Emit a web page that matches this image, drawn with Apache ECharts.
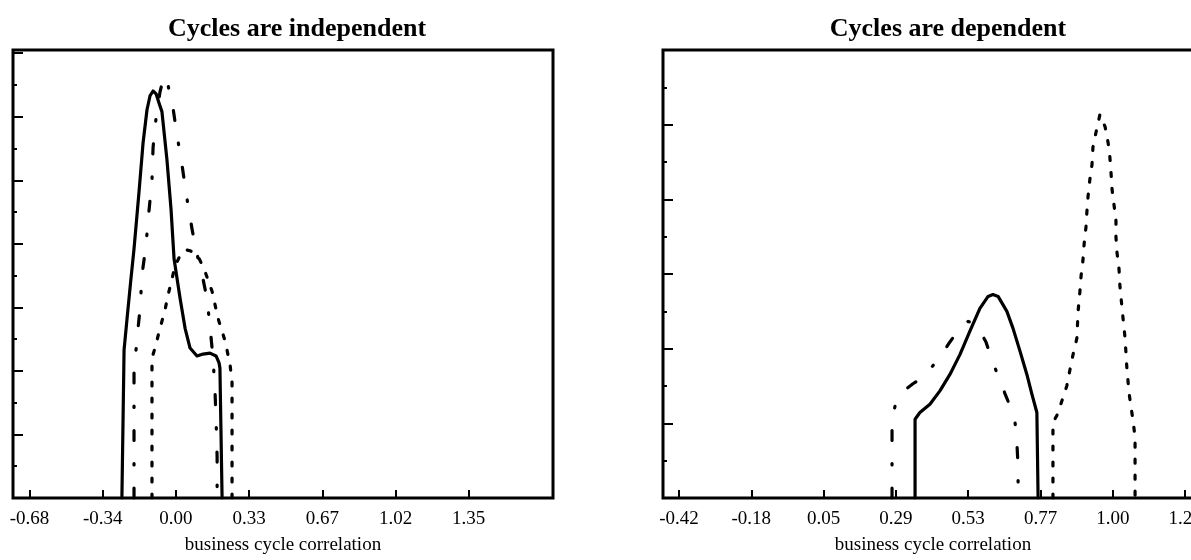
<!DOCTYPE html>
<html>
<head>
<meta charset="utf-8">
<script src="https://cdn.jsdelivr.net/npm/echarts@6/dist/echarts.min.js"></script>
<style>
html, body { margin: 0; padding: 0; overflow: hidden; background: #fff; }
#chart { width: 1230px; height: 560px; }
</style>
</head>
<body>
<div id="chart"></div>
<script>
// tick positions (uniform spacing) and the labels printed under them
const leftTicks = [-0.68, -0.3417, -0.0034, 0.3349, 0.6732, 1.0115, 1.3498]
const leftTickLabels = ['-0.68', '-0.34', '0.00', '0.33', '0.67', '1.02', '1.35']
const rightTicks = [-0.42, -0.1814, 0.0572, 0.2958, 0.5344, 0.773, 1.0116, 1.2502]
const rightTickLabels = ['-0.42', '-0.18', '0.05', '0.29', '0.53', '0.77', '1.00', '1.25']

// Cycles are independent
const indSolidX = [-0.253, -0.243, -0.229, -0.211, -0.197, -0.174, -0.155, -0.137, -0.123, -0.109, -0.095, -0.082, -0.068, -0.045, -0.026, -0.012, 0.016, 0.039, 0.062, 0.094, 0.122, 0.154, 0.182, 0.196, 0.200, 0.210]
const indSolidY = [0, 4.66, 5.66, 6.91, 7.84, 9.63, 11.19, 12.22, 12.66, 12.81, 12.72, 12.44, 12.16, 10.66, 9.09, 7.53, 6.28, 5.34, 4.72, 4.47, 4.53, 4.56, 4.47, 4.25, 4.09, 0]
const indDashDotX = [-0.197, -0.197, -0.183, -0.169, -0.160, -0.142, -0.128, -0.114, -0.109, -0.095, -0.077, -0.063, -0.049, -0.035, -0.021, 0.002, 0.025, 0.048, 0.071, 0.090, 0.117, 0.140, 0.154, 0.168, 0.177, 0.182, 0.187, 0.187]
const indDashDotY = [0, 3.94, 5.03, 5.97, 7.03, 7.94, 9.03, 10.00, 11.03, 11.97, 12.78, 13.16, 13.28, 12.84, 12.47, 11.41, 10.47, 9.41, 8.47, 7.78, 7.06, 6.28, 5.41, 4.41, 3.41, 2.53, 1.28, 0]
const indDottedX = [-0.114, -0.114, -0.100, -0.077, -0.054, -0.040, -0.021, -0.007, 0.016, 0.043, 0.062, 0.094, 0.131, 0.164, 0.191, 0.224, 0.247, 0.256, 0.256]
const indDottedY = [0, 4.41, 4.72, 5.34, 5.91, 6.38, 6.91, 7.31, 7.63, 7.81, 7.78, 7.69, 7.13, 6.50, 5.66, 4.94, 4.19, 3.63, 0]

// Cycles are dependent
const depSolidX = [0.359, 0.359, 0.375, 0.408, 0.441, 0.474, 0.507, 0.540, 0.573, 0.600, 0.616, 0.633, 0.662, 0.682, 0.705, 0.728, 0.745, 0.761, 0.765]
const depSolidY = [0, 2.11, 2.29, 2.51, 2.87, 3.31, 3.84, 4.47, 5.08, 5.40, 5.45, 5.40, 5.00, 4.55, 3.94, 3.31, 2.77, 2.29, 0]
const depDashDotX = [0.283, 0.283, 0.296, 0.326, 0.352, 0.392, 0.425, 0.445, 0.474, 0.507, 0.534, 0.554, 0.573, 0.593, 0.616, 0.639, 0.656, 0.672, 0.689, 0.695, 0.699, 0.699]
const depDashDotY = [0, 2.15, 2.55, 2.90, 3.06, 3.27, 3.62, 3.83, 4.18, 4.55, 4.73, 4.68, 4.47, 4.18, 3.62, 3.16, 2.79, 2.47, 2.02, 1.49, 0.82, 0]
const depDottedX = [0.814, 0.814, 0.827, 0.844, 0.860, 0.870, 0.880, 0.893, 0.897, 0.903, 0.907, 0.913, 0.917, 0.923, 0.926, 0.930, 0.936, 0.943, 0.946, 0.956, 0.969, 0.986, 0.996, 1.002, 1.006, 1.009, 1.016, 1.022, 1.022, 1.025, 1.032, 1.035, 1.042, 1.052, 1.058, 1.065, 1.072, 1.078, 1.085, 1.085]
const depDottedY = [0, 2.02, 2.21, 2.61, 3.01, 3.43, 3.83, 4.28, 5.00, 5.53, 5.96, 6.36, 6.81, 7.26, 7.66, 8.09, 8.54, 8.94, 9.39, 9.79, 10.27, 9.95, 9.52, 9.12, 8.67, 8.27, 7.82, 7.42, 6.99, 6.60, 6.14, 5.69, 5.08, 4.28, 3.48, 2.82, 2.42, 2.10, 1.62, 0]

const SERIF = 'Liberation Serif'
const DASH_DOT = [10, 23, 1.5, 23]
const DOTTED = [4, 12]

function pairs (xs, ys) {
  return xs.map((x, i) => [x, ys[i]])
}

function curve (idx, xs, ys, type) {
  return {
    type: 'line',
    xAxisIndex: idx,
    yAxisIndex: idx,
    data: pairs(xs, ys),
    showSymbol: false,
    silent: true,
    lineStyle: { color: '#000', width: 3.2, type: type, cap: 'round', join: 'round' }
  }
}

function xAxisFor (idx, min, max, ticks, labels) {
  return {
    type: 'value',
    gridIndex: idx,
    position: 'bottom',
    min: min,
    max: max,
    name: 'business cycle correlation',
    nameLocation: 'middle',
    nameGap: 38,
    nameTextStyle: { fontFamily: SERIF, fontSize: 19, color: '#000' },
    axisLine: { show: false, onZero: false },
    splitLine: { show: false },
    axisTick: {
      inside: true,
      length: 8,
      customValues: ticks,
      lineStyle: { color: '#000', width: 2 }
    },
    axisLabel: {
      customValues: ticks,
      margin: 12,
      fontFamily: SERIF,
      fontSize: 19,
      color: '#000',
      formatter: function (v) {
        const i = ticks.findIndex(t => Math.abs(t - v) < 1e-6)
        return i < 0 ? '' : labels[i]
      }
    }
  }
}

function yAxisFor (idx, max) {
  return {
    type: 'value',
    gridIndex: idx,
    position: 'left',
    min: 0,
    max: max,
    interval: 2,
    axisLine: { show: false, onZero: false },
    axisLabel: { show: false },
    splitLine: { show: false },
    axisTick: { inside: true, length: 10, lineStyle: { color: '#000', width: 2 } },
    minorTick: { show: true, splitNumber: 2, length: 4, lineStyle: { color: '#000', width: 2 } },
    minorSplitLine: { show: false }
  }
}

const myChart = echarts.init(document.getElementById('chart'))
const option = {
  animation: false,
  backgroundColor: '#fff',
  title: [
    {
      text: 'Cycles are independent',
      left: 292,
      top: 11,
      textAlign: 'center',
      textStyle: { fontFamily: SERIF, fontSize: 26, fontWeight: 'bold', color: '#000' }
    },
    {
      text: 'Cycles are dependent',
      left: 943,
      top: 11,
      textAlign: 'center',
      textStyle: { fontFamily: SERIF, fontSize: 26, fontWeight: 'bold', color: '#000' }
    }
  ],
  grid: [
    { left: 13, top: 50, width: 540, height: 451, show: true, borderColor: '#000', borderWidth: 3 },
    { left: 663, top: 50, width: 540, height: 451, show: true, borderColor: '#000', borderWidth: 3 }
  ],
  xAxis: [
    xAxisFor(0, -0.7563, 1.7393, leftTicks, leftTickLabels),
    xAxisFor(1, -0.4728, 1.3092, rightTicks, rightTickLabels)
  ],
  yAxis: [
    yAxisFor(0, 14.1),
    yAxisFor(1, 12)
  ],
  series: [
    curve(0, indSolidX, indSolidY, 'solid'),
    curve(0, indDashDotX, indDashDotY, DASH_DOT),
    curve(0, indDottedX, indDottedY, DOTTED),
    curve(1, depSolidX, depSolidY, 'solid'),
    curve(1, depDashDotX, depDashDotY, DASH_DOT),
    curve(1, depDottedX, depDottedY, DOTTED)
  ]
}
myChart.setOption(option)
</script>
</body>
</html>
